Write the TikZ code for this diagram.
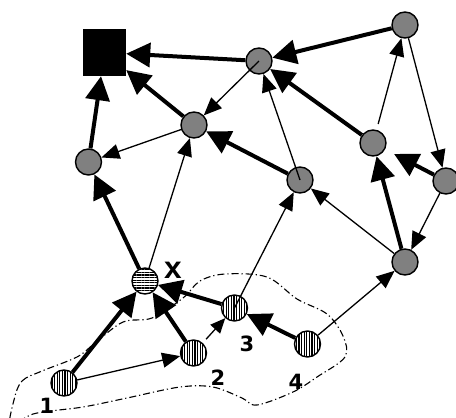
\documentclass[tikz,border=0pt]{standalone}
\usepackage{fontspec}
\newfontfamily\numfont{DejaVu Sans}
\newfontfamily\markfont{Liberation Mono}
\usetikzlibrary{arrows.meta,patterns.meta}
\tikzset{
  vertex/.style={circle,draw,line width=1.4pt,fill=gray,minimum size=26pt,inner sep=0pt},
  hstripe/.style={circle,draw,line width=1.4pt,minimum size=26pt,inner sep=0pt,
    preaction={fill=white},pattern={Lines[angle=0,distance=2.6pt,line width=1.1pt]}},
  vstripe/.style={circle,draw,line width=1.4pt,minimum size=26pt,inner sep=0pt,
    preaction={fill=white},pattern={Lines[angle=90,distance=2.6pt,line width=1.1pt]}},
  sink/.style={rectangle,fill=black,minimum width=43pt,minimum height=47pt,inner sep=0pt},
  heavy/.style={line width=4pt,-{Triangle[length=24pt,width=24pt]}},
  light/.style={line width=1.3pt,-{Triangle[length=18pt,width=15pt]}},
  lightsmall/.style={line width=1.3pt,-{Triangle[length=15pt,width=13pt]}},
  region/.style={line width=1.1pt,dash pattern=on 7pt off 3pt on 1.2pt off 3pt},
  lbl/.style={inner sep=0pt,font=\numfont\bfseries\fontsize{21}{21}\selectfont},
  xlbl/.style={inner sep=0pt,font=\markfont\bfseries\fontsize{31}{31}\selectfont}
}
\begin{document}
\begin{tikzpicture}[x=1pt,y=-1pt]
\useasboundingbox (0,0) rectangle (456,418);

% grouped region around the striped vertices
\draw[region] plot[smooth cycle,tension=0.55] coordinates {
  (14,400) (22,381) (42,371) (77,357) (95,343) (123,322) (152,318)
  (183,298) (200,281) (225,274) (267,277) (297,299) (327,314) (343,336)
  (345,357) (317,377) (293,392) (257,405) (242,398) (213,387) (180,387)
  (127,398) (83,407) (33,414) (10,428)};

% vertices
\node[sink] (S) at (104.5,52.5) {};
\node[vertex] (A) at (259,61) {};
\node[vertex] (B) at (194,125) {};
\node[vertex] (C) at (88.5,162) {};
\node[vertex] (D) at (405,25) {};
\node[vertex] (E) at (300,180) {};
\node[vertex] (F) at (373,143) {};
\node[vertex] (G) at (446,181) {};
\node[vertex] (H) at (405,262) {};
\node[hstripe] (X) at (145,281) {};
\node[vstripe] (n1) at (64,383) {};
\node[vstripe] (n2) at (193.5,353) {};
\node[vstripe] (n3) at (234.5,308) {};
\node[vstripe] (n4) at (307.5,344) {};

% heavy edges
\draw[heavy] (A) -- (S);
\draw[heavy] (D) -- (A);
\draw[heavy] (B) -- (S);
\draw[heavy] (C) -- (S);
\draw[heavy] (F) -- (A);
\draw[heavy] (E) -- (B);
\draw[heavy] (X) -- (C);
\draw[heavy] (H) -- (F);
\draw[heavy,shorten >=10pt] (G) -- (F);
\draw[heavy] (n1) -- (X);
\draw[heavy] (n2) -- (X);
\draw[heavy] (n3) -- (X);
\draw[heavy] (n4) -- (n3);

% light edges
\draw[light] (A.center) -- (B);
\draw[light] (B) -- (C);
\draw[light] (X) -- (B);
\draw[light] (E.center) -- (A);
\draw[light,shorten <=6pt] (F) -- (D);
\draw[light] (D) -- (G);
\draw[light] (G) -- (H);
\draw[light] (H) -- (E);
\draw[light] (n3.center) -- (E);
\draw[light] (n4) -- (H);
\draw[light] (n1) -- (n2);
\draw[lightsmall,shorten <=5pt] (n2) -- (n3);

% labels
\node[xlbl] (lx) at (173,270) {x};
\node[lbl] (l1) at (47,406) {1};
\node[lbl] (l2) at (218,378) {2};
\node[lbl] (l3) at (247,344) {3};
\node[lbl] (l4) at (296,382) {4};
\end{tikzpicture}
\end{document}
